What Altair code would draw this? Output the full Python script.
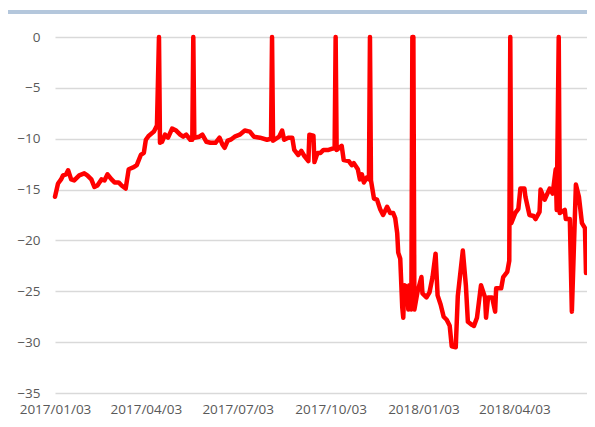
import altair as alt
import pandas as pd

dates = [
    "2017-01-03", "2017-01-06", "2017-01-09", "2017-01-11", "2017-01-14", "2017-01-16",
    "2017-01-19", "2017-01-22", "2017-01-27", "2017-02-01", "2017-02-04", "2017-02-08",
    "2017-02-11", "2017-02-14", "2017-02-18", "2017-02-21", "2017-02-24", "2017-02-28",
    "2017-03-03", "2017-03-07", "2017-03-10", "2017-03-14", "2017-03-17", "2017-03-22",
    "2017-03-25", "2017-03-29", "2017-04-01", "2017-04-03", "2017-04-06", "2017-04-11",
    "2017-04-14", "2017-04-16", "2017-04-17", "2017-04-19", "2017-04-22", "2017-04-25",
    "2017-04-29", "2017-05-03", "2017-05-07", "2017-05-10", "2017-05-13", "2017-05-17",
    "2017-05-19", "2017-05-20", "2017-05-21", "2017-05-26", "2017-05-29", "2017-06-02",
    "2017-06-06", "2017-06-11", "2017-06-15", "2017-06-18", "2017-06-20", "2017-06-23",
    "2017-06-26", "2017-06-30", "2017-07-05", "2017-07-10", "2017-07-15", "2017-07-19",
    "2017-07-25", "2017-08-01", "2017-08-05", "2017-08-06", "2017-08-07", "2017-08-13",
    "2017-08-16", "2017-08-18", "2017-08-22", "2017-08-26", "2017-08-28", "2017-09-01",
    "2017-09-04", "2017-09-07", "2017-09-11", "2017-09-12", "2017-09-16", "2017-09-17",
    "2017-09-20", "2017-09-23", "2017-09-26", "2017-10-01", "2017-10-07", "2017-10-08",
    "2017-10-09", "2017-10-14", "2017-10-16", "2017-10-21", "2017-10-24", "2017-10-26",
    "2017-10-30", "2017-11-01", "2017-11-03", "2017-11-05", "2017-11-08", "2017-11-10",
    "2017-11-11", "2017-11-12", "2017-11-15", "2017-11-18", "2017-11-21", "2017-11-24",
    "2017-11-28", "2017-12-01", "2017-12-04", "2017-12-06", "2017-12-08", "2017-12-09",
    "2017-12-11", "2017-12-13", "2017-12-14", "2017-12-15", "2017-12-18", "2017-12-19",
    "2017-12-20", "2017-12-22", "2017-12-23", "2017-12-24", "2017-12-25", "2017-12-28",
    "2018-01-01", "2018-01-02", "2018-01-06", "2018-01-09", "2018-01-12", "2018-01-15",
    "2018-01-17", "2018-01-20", "2018-01-23", "2018-01-26", "2018-01-29", "2018-01-31",
    "2018-02-04", "2018-02-06", "2018-02-11", "2018-02-14", "2018-02-16", "2018-02-20",
    "2018-02-22", "2018-02-25", "2018-02-28", "2018-03-01", "2018-03-05", "2018-03-06",
    "2018-03-08", "2018-03-12", "2018-03-15", "2018-03-16", "2018-03-21", "2018-03-23",
    "2018-03-27", "2018-03-29", "2018-03-30", "2018-03-31", "2018-04-04", "2018-04-07",
    "2018-04-09", "2018-04-13", "2018-04-14", "2018-04-18", "2018-04-22", "2018-04-24",
    "2018-04-28", "2018-04-29", "2018-05-03", "2018-05-08", "2018-05-11", "2018-05-14",
    "2018-05-15", "2018-05-17", "2018-05-18", "2018-05-23", "2018-05-24", "2018-05-28",
    "2018-05-30", "2018-06-03", "2018-06-06", "2018-06-09", "2018-06-12", "2018-06-13",
]

values = [
    -15.7, -14.4, -14.0, -13.6, -13.5, -13.1,
    -14.0, -14.1, -13.6, -13.4, -13.6, -14.0,
    -14.75, -14.6, -14.0, -14.1, -13.5, -14.0,
    -14.3, -14.3, -14.6, -14.9, -13.0, -12.8,
    -12.6, -11.6, -11.4, -10.1, -9.7, -9.3,
    -8.7, 0, -10.4, -10.3, -9.6, -9.9,
    -9.0, -9.2, -9.6, -9.8, -9.6, -10.1,
    -10.1, 0, -9.9, -9.8, -9.6, -10.3,
    -10.4, -10.4, -9.9, -10.6, -10.9, -10.2,
    -10.1, -9.8, -9.6, -9.2, -9.3, -9.8,
    -9.9, -10.1, -10.0, 0, -10.2, -9.8,
    -9.2, -10.1, -9.9, -9.9, -11.1, -11.6,
    -11.2, -11.7, -12.2, -9.6, -9.7, -12.3,
    -11.4, -11.4, -11.1, -11.1, -10.9, 0,
    -11.1, -10.7, -12.1, -12.2, -12.6, -12.4,
    -13.0, -14.0, -13.5, -14.3, -13.8, -14.0,
    0, -14.1, -15.9, -16.0, -16.9, -17.5,
    -16.7, -17.3, -17.3, -17.8, -19.3, -21.2,
    -21.8, -26.6, -27.6, -24.4, -24.6, -26.8,
    -24.4, -26.8, 0, 0, -26.8, -25.1,
    -23.6, -25.2, -25.6, -25.1, -23.6, -21.3,
    -25.4, -26.3, -27.5, -27.8, -28.4, -30.4,
    -30.5, -25.5, -21.0, -24.4, -28.0, -28.3,
    -28.4, -27.6, -25.2, -24.4, -25.6, -27.6,
    -25.6, -25.6, -27.0, -24.7, -24.7, -23.6,
    -23.1, -22.0, 0, -18.3, -17.3, -16.9,
    -14.9, -14.9, -15.7, -17.5, -17.6, -17.9,
    -17.2, -15.0, -16.0, -14.9, -15.4, -13.0,
    -17.0, 0, -17.3, -17.0, -17.9, -17.9,
    -27.0, -14.5, -15.7, -18.3, -18.8, -23.2,
]

y_ticks = [0, -5, -10, -15, -20, -25, -30, -35]
x_tick_dates = [(2017, 1, 3), (2017, 4, 3), (2017, 7, 3), (2017, 10, 3), (2018, 1, 3), (2018, 4, 3)]

df = pd.DataFrame({"date": dates, "value": values})

FONT = "Open Sans"
LABEL_COLOR = "#595959"
W = 532
H = 356

x_enc = alt.X(
    "date:T",
    scale=alt.Scale(
        type="utc",
        domain=[
            alt.DateTime(year=2017, month=1, date=3, utc=True),
            alt.DateTime(year=2018, month=6, date=14, utc=True),
        ],
    ),
    axis=alt.Axis(
        values=[alt.DateTime(year=a, month=b, date=c, utc=True) for a, b, c in x_tick_dates],
        labelExpr="utcFormat(datum.value, '%Y/%m/%d')",
        grid=False,
        domain=False,
        ticks=False,
        labelPadding=9,
        labelFlush=False,
        labelOverlap=False,
        labelFont=FONT,
        labelFontSize=13.5,
        labelColor=LABEL_COLOR,
        title=None,
    ),
)

y_enc = alt.Y(
    "value:Q",
    scale=alt.Scale(domain=[-35, 0], nice=False, zero=False),
    axis=alt.Axis(
        values=y_ticks,
        grid=True,
        gridColor="#d9d9d9",
        gridWidth=1.5,
        domain=False,
        ticks=False,
        labelPadding=15,
        labelFont=FONT,
        labelFontSize=13.5,
        labelColor=LABEL_COLOR,
        title=None,
    ),
)

line = alt.Chart(df).mark_line(
    color="#ff0000", strokeWidth=4.5, strokeJoin="round", strokeCap="round"
).encode(x=x_enc, y=y_enc)

top_bar = alt.Chart(pd.DataFrame({"a": [0]})).mark_rule(
    color="#b4c7dc", strokeWidth=4
).encode(x=alt.value(-47), x2=alt.value(W), y=alt.value(-25))

chart = alt.layer(top_bar, line).properties(
    width=W,
    height=H,
    padding={"left": 47, "top": 29, "right": 0, "bottom": 26},
    autosize=alt.AutoSizeParams(type="none"),
).configure_view(stroke="transparent")

chart.save("out.html", embed_options={"renderer": "svg", "actions": False})
